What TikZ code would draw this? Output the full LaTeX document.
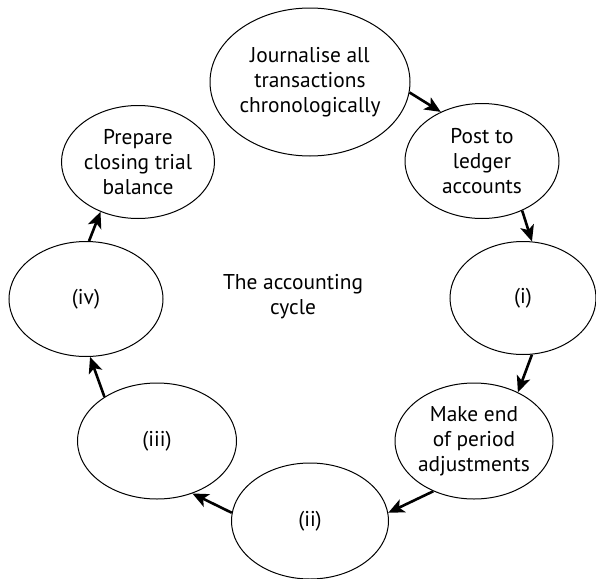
\documentclass[tikz,border=0pt]{standalone}
\usepackage{fontspec}
\setmainfont{PT Sans}
\usetikzlibrary{arrows.meta, shapes.geometric}

\begin{document}
\begin{tikzpicture}[
    x=0.5pt, y=-0.5pt,
    every node/.style={font=\fontsize{10.7}{12.5}\selectfont},
    stage/.style={draw, ellipse, line width=0.5pt, align=center,
                  inner xsep=-6pt, inner ysep=0pt,
                  minimum width=78pt, minimum height=57.5pt},
    flow/.style={-{Stealth[length=8pt, width=7pt, inset=2pt]}, line width=1.3pt},
]
  \useasboundingbox (0,0) rectangle (596,579);
  % the eight stages round the cycle
  \node[stage, minimum width=100pt, minimum height=74pt] (journal)
        at (310,82) {Journalise all\\transactions\\chronologically};
  \node[stage, minimum width=77pt] (post) at (482,161) {Post to\\ledger\\accounts};
  \node[stage, minimum width=73pt, minimum height=56.5pt] (stepi) at (523,298) {(i)};
  \node[stage, minimum width=79pt, minimum height=58pt] (adjust)
        at (474,441) {Make end\\of period\\adjustments};
  \node[stage, minimum width=78.5pt, minimum height=58pt] (stepii) at (310,521) {(ii)};
  \node[stage, minimum width=79.5pt, minimum height=58pt] (stepiii) at (157,441) {(iii)};
  \node[stage, minimum width=77pt] (stepiv) at (86,299) {(iv)};
  \node[stage, minimum width=76.5pt, minimum height=56.5pt] (closing)
        at (138,162) {Prepare\\closing trial\\balance};
  \node[align=center] (title) at (293,297) {The accounting\\cycle};

  \draw[flow] (journal.-6)  -- (post.130);
  \draw[flow] (post.-51)    -- (stepi.81);
  \draw[flow] (stepi.-81)   -- (adjust.48);
  \draw[flow] (adjust.231)  -- (stepii.6);
  \draw[flow] (stepii.174)  -- (stepiii.-56);
  \draw[flow] (stepiii.140) -- (stepiv.-86);
  \draw[flow] (stepiv.87)   -- (closing.233);
\end{tikzpicture}
\end{document}
